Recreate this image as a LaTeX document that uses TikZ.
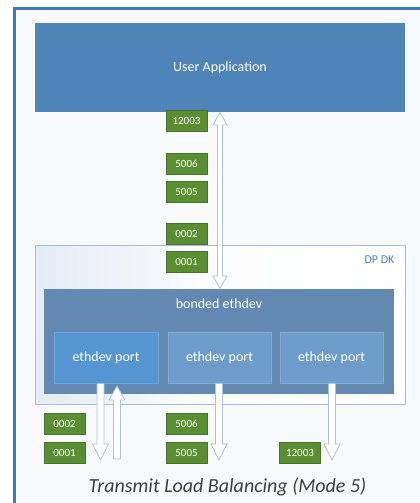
\documentclass[tikz,border=0pt]{standalone}
\usepackage{fontspec}
\setmainfont{Carlito}
\definecolor{bgc}{HTML}{F8F9FB}
\definecolor{framec}{HTML}{3A7CC0}
\definecolor{uac}{HTML}{4F84B9}
\definecolor{bondc}{HTML}{6388B2}
\definecolor{portac}{HTML}{5596D2}
\definecolor{portc}{HTML}{6E9DCC}
\definecolor{greenc}{HTML}{5A8E33}
\definecolor{dpdkline}{HTML}{A3BEDD}
\definecolor{dpdktext}{HTML}{4F81BD}
\definecolor{arrowc}{HTML}{AFC0DA}
\definecolor{capc}{HTML}{404040}
\tikzset{
  bluebox/.style={rectangle, inner sep=0pt, text=white, font=\fontsize{14}{16}\selectfont},
  tag/.style={rectangle, fill=greenc, draw=greenc!80!black, line width=0.4pt, inner sep=0pt,
     minimum width=41pt, minimum height=21pt, text=white, font=\fontsize{11}{13}\selectfont},
  hollow/.style={draw=arrowc, fill=white, line width=0.8pt, line join=miter},
}
\newcommand{\arrdown}[4]{% x, ytop, ytip, halfwidth shaft
  \path[hollow] (#1-#4,#2) -- (#1-#4,#3-16) -- (#1-8,#3-16) -- (#1,#3) -- (#1+8,#3-16) -- (#1+#4,#3-16) -- (#1+#4,#2);
}
\newcommand{\arrup}[4]{% x, ybottom, ytip, halfwidth shaft
  \path[hollow] (#1-#4,#2) -- (#1-#4,#3+14) -- (#1-8,#3+14) -- (#1,#3) -- (#1+8,#3+14) -- (#1+#4,#3+14) -- (#1+#4,#2) -- cycle;
}
\begin{document}
\begin{tikzpicture}[x=1pt,y=-1pt]
\useasboundingbox (0,0) rectangle (420,503);
\fill[bgc] (16,10) rectangle (420,503);
\draw[framec, line width=3pt] (14.5,503) -- (14.5,8.5) -- (420,8.5);

% user application
\node[bluebox, fill=uac, minimum width=370pt, minimum height=89pt] (ua) at (220,67.5) {User Application};

% DPDK container
\node[rectangle, draw=dpdkline, line width=0.8pt, left color=dpdkline!30!white, right color=white, middle color=white!97!dpdkline,
      minimum width=370pt, minimum height=159pt, inner sep=0pt] (dpdk) at (220,324.5) {};
\node[text=dpdktext, font=\fontsize{12}{14}\selectfont, anchor=east] (dpdklbl) at (398,260) {DP DK};

% bonded ethdev
\node[bluebox, fill=bondc, minimum width=350pt, minimum height=105pt] (bond) at (219,341.5) {};
\node[text=white, font=\fontsize{14}{16}\selectfont] (bondlbl) at (219,303.5) {bonded ethdev};

% ports
\node[bluebox, fill=portac, draw=portac!85!white, minimum width=104pt, minimum height=51pt] (p1) at (106,357.5) {ethdev port};
\node[bluebox, fill=portc, draw=portc!85!white, minimum width=103pt, minimum height=51pt] (p2) at (219.5,357.5) {ethdev port};
\node[bluebox, fill=portc, draw=portc!85!white, minimum width=103pt, minimum height=51pt] (p3) at (331.5,357.5) {ethdev port};

% double arrow between application and bonded device
\path[hollow] (217.5,125) -- (213,125) -- (220,112.5) -- (227,125) -- (222.5,125)
   -- (222.5,276) -- (227,276) -- (220,288.5) -- (213,276) -- (217.5,276) -- cycle;

% arrows below ports
\arrdown{100.5}{383.5}{460}{3.5}
\arrup{117}{459}{386}{3.5}
\arrdown{219}{383.5}{460}{3.5}
\arrdown{332}{383.5}{460}{3.5}

% green tags, upper column
\node[tag] (t12003a) at (186.5,120.5) {12003};
\node[tag] (t5006a) at (186.5,163.5) {5006};
\node[tag] (t5005a) at (186.5,191.5) {5005};
\node[tag] (t0002a) at (186.5,233.5) {0002};
\node[tag] (t0001a) at (186.5,261.5) {0001};

% green tags, below ports
\node[tag] (t0002b) at (64.5,424) {0002};
\node[tag] (t0001b) at (64.5,452.5) {0001};
\node[tag] (t5006b) at (186.5,424) {5006};
\node[tag] (t5005b) at (186.5,452.5) {5005};
\node[tag] (t12003b) at (300,452.5) {12003};

% caption
\node[text=capc, font=\fontsize{20}{23}\itshape] (cap) at (227.5,487) {Transmit Load Balancing (Mode 5)};
\end{tikzpicture}
\end{document}
